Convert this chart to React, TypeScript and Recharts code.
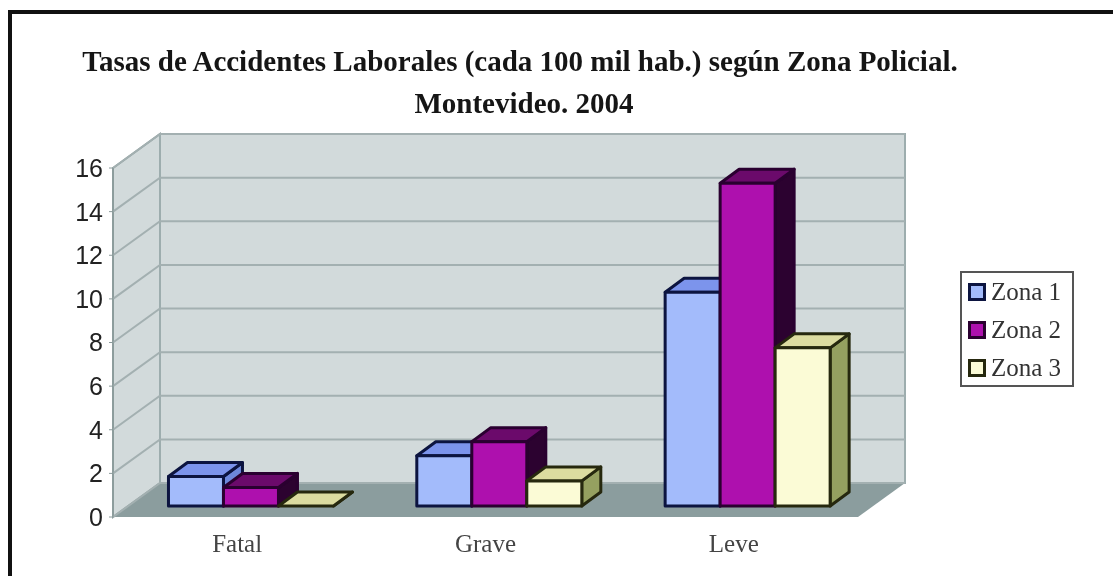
import { Bar, BarChart, CartesianGrid, Legend, ReferenceArea, XAxis, YAxis } from 'recharts'

const categories = ['Fatal', 'Grave', 'Leve']
const zona1 = [1.35, 2.3, 9.8]
const zona2 = [0.85, 2.95, 14.8]
const zona3 = [0, 1.15, 7.25]
const yTicks = [0, 2, 4, 6, 8, 10, 12, 14, 16]
const seriesNames = ['Zona 1', 'Zona 2', 'Zona 3']

const chartData = categories.map((name, i) => ({
  name,
  'Zona 1': zona1[i],
  'Zona 2': zona2[i],
  'Zona 3': zona3[i],
}))

const faceColors = ['#a3bbfb', '#ae10ae', '#fbfbd6']
const topColors = ['#7c94ec', '#6b0a6b', '#dcdca0']
const sideColors = ['#6d88dc', '#2c0230', '#95a060']
const edgeColors = ['#0c1440', '#2a0030', '#26280e']

// depth of the floor / walls and where the bars sit on it
const WALL_DX = 47
const WALL_DY = -34
const FRONT_DX = 14
const FRONT_DY = -11
const DEPTH_DX = 19
const DEPTH_DY = -14

function Box3D({ x, y, width, height, index }: any, s: number) {
  const l = x + FRONT_DX
  const r = l + width
  const t = y + FRONT_DY
  const b = t + height
  const stroke = edgeColors[s]
  return (
    <g key={index} strokeLinejoin='round'>
      <polygon
        points={`${r},${t} ${r + DEPTH_DX},${t + DEPTH_DY} ${r + DEPTH_DX},${b + DEPTH_DY} ${r},${b}`}
        fill={sideColors[s]}
        stroke={stroke}
        strokeWidth={3}
      />
      <polygon
        points={`${l},${t} ${l + DEPTH_DX},${t + DEPTH_DY} ${r + DEPTH_DX},${t + DEPTH_DY} ${r},${t}`}
        fill={topColors[s]}
        stroke={stroke}
        strokeWidth={3}
      />
      {height > 0 && (
        <rect x={l} y={t} width={width} height={height} fill={faceColors[s]} stroke={stroke} strokeWidth={3} />
      )}
    </g>
  )
}

function Walls({ x, y, width, height }: any) {
  const b = y + height
  const r = x + width
  return (
    <g>
      <polygon
        points={`${x},${y} ${x + WALL_DX},${y + WALL_DY} ${x + WALL_DX},${b + WALL_DY} ${x},${b}`}
        fill='#d2dadb'
        stroke='#8f9f9f'
        strokeWidth={2}
      />
      <rect x={x + WALL_DX} y={y + WALL_DY} width={width} height={height} fill='#d2dadb' stroke='#9dadae' strokeWidth={2} />
      <polygon
        points={`${x},${b} ${x + WALL_DX},${b + WALL_DY} ${r + WALL_DX},${b + WALL_DY} ${r},${b}`}
        fill='#8b9d9e'
      />
    </g>
  )
}

function GridLine({ x1, x2, y1, index }: any) {
  return (
    <polyline
      key={index}
      points={`${x1},${y1} ${x1 + WALL_DX},${y1 + WALL_DY} ${x2 + WALL_DX},${y1 + WALL_DY}`}
      fill='none'
      stroke='#a3b0b1'
      strokeWidth={2}
    />
  )
}

function LegendBox({ payload }: any) {
  return (
    <div
      style={{
        width: 114,
        height: 116,
        boxSizing: 'border-box',
        border: '2px solid #555',
        background: '#fff',
        padding: '0 0 0 6px',
        fontFamily: '"Liberation Serif", serif',
        fontSize: 25,
        color: '#333',
      }}
    >
      {(payload ?? []).map((entry: any) => {
        const s = seriesNames.indexOf(entry.value)
        return (
          <div key={entry.value} style={{ display: 'flex', alignItems: 'center', height: 38 }}>
            <span
              style={{
                width: 18,
                height: 18,
                boxSizing: 'border-box',
                marginRight: 5,
                background: faceColors[s],
                border: `3px solid ${edgeColors[s]}`,
              }}
            />
            <span style={{ whiteSpace: 'nowrap' }}>{entry.value}</span>
          </div>
        )
      })}
    </div>
  )
}

export default function App() {
  const titleStyle = {
    position: 'absolute' as const,
    left: 0,
    width: 1040,
    textAlign: 'center' as const,
    fontFamily: '"Liberation Serif", serif',
    fontWeight: 700,
    fontSize: 29,
    color: '#151515',
    whiteSpace: 'nowrap' as const,
  }

  return (
    <div style={{ position: 'absolute', left: 0, top: 0, width: 1113, height: 576, overflow: 'hidden', background: '#fff', filter: 'blur(0.5px)' }}>
      <BarChart
        width={1113}
        height={576}
        data={chartData}
        barGap={0}
        barCategoryGap='16.7%'
        margin={{ top: 168, right: 255, bottom: 19, left: 53 }}
      >
        <ReferenceArea y1={0} y2={16} shape={<Walls />} ifOverflow='visible' zIndex={-200} />
        <CartesianGrid vertical={false} horizontal={(p: any) => <GridLine {...p} />} zIndex={-100} />
        <XAxis
          dataKey='name'
          height={40}
          axisLine={false}
          tickLine={false}
          tickMargin={11}
          tick={{ fill: '#444', fontSize: 25, fontFamily: '"Liberation Serif", serif' }}
        />
        <YAxis
          width={60}
          domain={[0, 16]}
          ticks={yTicks}
          interval={0}
          tickSize={4}
          tickMargin={6}
          stroke='#8a9a9a'
          tick={{ fill: '#222', fontSize: 25, fontFamily: '"Liberation Sans", sans-serif' }}
        />
        <Legend
          layout='horizontal'
          verticalAlign='middle'
          align='center'
          content={<LegendBox />}
          wrapperStyle={{ left: 960, top: 271, width: 114, height: 116, bottom: 'auto' }}
        />
        {seriesNames.map((name, s) => (
          <Bar
            key={name}
            dataKey={name}
            fill={faceColors[s]}
            isAnimationActive={false}
            shape={(p: any) => Box3D(p, s)}
          />
        ))}
      </BarChart>
      <div style={{ position: 'absolute', left: 8, top: 10, width: 1105, height: 566, boxSizing: 'border-box', borderLeft: '4px solid #111', borderTop: '4px solid #111' }} />
      <div style={{ ...titleStyle, top: 45 }}>Tasas de Accidentes Laborales (cada 100 mil hab.) según Zona Policial.</div>
      <div style={{ ...titleStyle, top: 87, left: 4 }}>Montevideo. 2004</div>
    </div>
  )
}
